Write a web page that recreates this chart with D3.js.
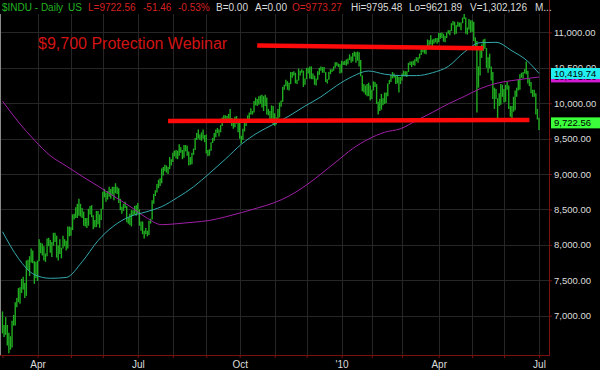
<!DOCTYPE html>
<html>
<head>
<meta charset="utf-8">
<script src="https://cdn.jsdelivr.net/npm/d3@7"></script>
<style>
  html, body { margin: 0; padding: 0; background: #000; }
  svg { display: block; }
</style>
</head>
<body>
<div id="chart"></div>
<script>
(function () {
  'use strict';

  /* ── DATA ── */
  // market holidays skipped when building the trading calendar
  const HOLIDAYS = ['2009-04-10', '2009-05-25', '2009-07-03', '2009-09-07', '2009-11-26', '2009-12-25',
                    '2010-01-01', '2010-01-18', '2010-02-15', '2010-04-02', '2010-05-31'];

  // daily lows, one line per month (Mar 2009 .. Jul 2010)
  const LOWS = [
    6750,6700,6730,6580,6470,6520,6550,6860,6860,7120,7190,7170,7320,7370,7250,7280,7640,7560,7750,7740,7450,7530,
    7490,7770,7880,7850,7780,7760,7840,7980,7890,7830,7990,8040,7820,7780,7870,7810,7950,7980,7920,7950,8120,
    8130,8210,8360,8380,8380,8410,8400,8380,8270,8260,8240,8270,8430,8390,8220,8250,8250,8290,8240,8350,
    8500,8670,8610,8640,8680,8650,8710,8630,8730,8720,8590,8490,8440,8480,8520,8320,8300,8280,8260,8410,8430,8410,
    8440,8270,8200,8150,8090,8150,8120,8140,8300,8360,8580,8690,8740,8800,8830,8870,8980,9040,9020,9000,9070,9120,
    9170,9250,9220,9210,9260,9300,9210,9230,9320,9260,9120,9130,9140,9270,9340,9480,9500,9480,9470,9500,9450,
    9290,9250,9260,9330,9440,9470,9520,9580,9530,9590,9680,9750,9780,9730,9780,9740,9680,9640,9660,9710,9590,
    9500,9430,9480,9600,9680,9720,9770,9840,9840,9870,9970,9960,9980,9990,9940,9890,9960,9840,9830,9750,9760,9700,
    9680,9700,9770,9800,9950,10020,10190,10240,10190,10180,10270,10360,10390,10280,10270,10320,10390,10430,10230,10260,
    10340,10420,10350,10340,10340,10260,10250,10330,10400,10460,10430,10430,10300,10280,10330,10410,10440,10460,10500,10530,10510,10420,
    10430,10540,10540,10530,10550,10610,10570,10590,10660,10570,10600,10520,10380,10170,10150,10120,10100,10100,10040,
    10060,10180,10230,9990,9840,9890,9910,9970,9990,10000,10100,10270,10300,10350,10360,10270,10280,10150,10270,
    10320,10380,10380,10370,10440,10540,10510,10540,10530,10590,10570,10630,10680,10720,10700,10690,10770,10810,10830,10800,10840,10860,10840,
    10860,10910,10920,10870,10860,10920,10980,10960,11020,11100,10970,10980,11080,11080,11030,11130,11190,10980,10970,11040,11000,
    11010,10880,10790,9870,10220,10390,10640,10740,10770,10500,10430,10490,10320,10060,9920,10060,9780,9960,9980,10090,
    10010,10020,10190,9920,9810,9760,9880,9900,10090,10180,10190,10360,10350,10420,10410,10280,10240,10140,10090,10090,9840,9770,
    9622
  ];

  // daily highs, same layout as LOWS
  const HIGHS = [
    7060,6870,6980,6870,6760,6710,6930,7010,7190,7250,7390,7400,7520,7550,7460,7780,7790,7840,7950,7920,7770,7760,
    7780,8080,8030,8020,7980,7880,8090,8100,8070,8040,8170,8170,8130,7990,8080,7960,8130,8080,8060,8260,8260,
    8250,8430,8440,8530,8580,8650,8580,8520,8470,8380,8380,8510,8550,8560,8420,8350,8480,8480,8430,8510,
    8750,8790,8740,8760,8820,8790,8820,8820,8870,8820,8800,8650,8540,8580,8610,8550,8390,8440,8490,8490,8550,8560,
    8590,8500,8330,8330,8200,8240,8200,8340,8370,8630,8720,8770,8860,8920,8940,9080,9100,9130,9120,9100,9240,9210,
    9300,9330,9340,9330,9420,9380,9340,9410,9410,9400,9320,9240,9300,9360,9510,9580,9630,9560,9590,9630,9550,
    9560,9340,9350,9450,9510,9580,9630,9650,9630,9690,9800,9830,9830,9820,9850,9920,9790,9740,9810,9820,9750,
    9720,9540,9640,9760,9740,9830,9870,9930,9890,10030,10080,10060,10100,10110,10120,10100,10120,10080,9920,9890,9970,9960,
    9860,9800,9920,10010,10040,10230,10260,10330,10310,10290,10440,10440,10450,10430,10330,10490,10460,10480,10460,10350,
    10500,10500,10520,10520,10420,10390,10350,10450,10500,10520,10510,10510,10440,10340,10440,10480,10480,10520,10580,10580,10560,10550,
    10600,10590,10600,10620,10630,10690,10660,10710,10730,10720,10730,10720,10610,10390,10270,10250,10270,10290,10250,
    10190,10310,10300,10270,10020,10060,10130,10070,10150,10150,10280,10330,10400,10440,10420,10390,10400,10370,10370,
    10420,10460,10450,10450,10570,10590,10590,10600,10620,10650,10650,10700,10770,10790,10800,10790,10900,10890,10960,10900,10910,10920,10920,
    10990,10990,11000,10980,10950,11000,11030,11030,11130,11160,11150,11100,11150,11140,11140,11210,11260,11210,11070,11190,11170,
    11170,11150,10930,10880,10520,10800,10830,10900,10910,10780,10650,10700,10520,10440,10220,10200,10070,10140,10270,10260,
    10200,10260,10300,10250,9960,9960,10090,10180,10220,10330,10410,10430,10440,10480,10590,10460,10340,10300,10190,10190,10140,9920,
    9795
  ];

  // moving averages every 10 trading days
  const MA_DAYS  = [0, 10, 20, 30, 40, 50, 60, 70, 80, 90, 100, 110, 120, 130, 140, 150, 160, 170,
                    180, 190, 200, 210, 220, 230, 240, 250, 260, 270, 280, 290, 300, 310, 320, 330, 337];
  const MA50     = [8186, 7810, 7580, 7528, 7540, 7760, 8060, 8270, 8400, 8465, 8540, 8670, 8820, 9010, 9210, 9420, 9580, 9700,
                    9820, 9960, 10090, 10250, 10380, 10455, 10410, 10390, 10390, 10430, 10520, 10720, 10855, 10860, 10740, 10590, 10420];
  const MA200    = [10030, 9735, 9480, 9260, 9114, 8968, 8830, 8685, 8545, 8390, 8285, 8300, 8320, 8345, 8395, 8455, 8520, 8590,
                    8690, 8830, 9000, 9180, 9360, 9495, 9590, 9640, 9755, 9870, 9990, 10095, 10205, 10280, 10320, 10350, 10370];

  const PRICE_TICKS = [7000, 7500, 8000, 8500, 9000, 9500, 10000, 10500, 11000];

  // hand-drawn red lines: [start day, end day] and [start value, end value]
  const TREND_DAYS   = [[160, 302], [104, 331]];
  const TREND_VALUES = [[10815, 10776], [9749, 9763]];

  const LAST_CLOSE = 9722.56;
  const LAST_MA50  = 10419.74;
  const LAST_MA200 = 10371.26;

  const HEADER_TEXT = ['$INDU - Daily', 'US', 'L=9722.56', '-51.46', '-0.53%', 'B=0.00', 'A=0.00',
                       'O=9773.27', 'Hi=9795.48', 'Lo=9621.89', 'V=1,302,126', 'M...'];
  const TITLE = '$9,700 Protection Webinar';

  /* ── CONSTANTS ── */
  const W = 600, H = 370;
  const AXIS_X = 549, AXIS_Y = 355, PLOT_TOP = 14;
  const FONT   = "Arial, 'Liberation Sans', sans-serif";
  const GREEN  = '#22b422';
  const BAR    = '#20ac20';
  const RED    = '#d42020';
  const LIGHT  = '#dcdcdc';
  const GRID   = '#262626';
  const AXIS   = '#7a1010';
  const HEADER_X     = [2, 68, 88, 143, 178, 216, 255, 292, 351, 409, 470, 535];
  const HEADER_COLOR = [GREEN, GREEN, RED, RED, RED, LIGHT, LIGHT, RED, LIGHT, LIGHT, LIGHT, LIGHT];

  /* ── TRADING CALENDAR ── */
  const fmtDay = d3.timeFormat('%Y-%m-%d');
  const DATES = d3.timeDay.range(new Date(2009, 2, 2), new Date(2010, 6, 2))
    .filter(d => d.getDay() !== 0 && d.getDay() !== 6 && !HOLIDAYS.includes(fmtDay(d)));
  if (DATES.length !== HIGHS.length) console.warn('calendar mismatch', DATES.length, HIGHS.length);

  const monthStarts = DATES.map((_, i) => i)
    .filter(i => i === 0 || DATES[i].getMonth() !== DATES[i - 1].getMonth());
  function monthLabel(i) {
    const m = DATES[i].getMonth();
    if (m % 3 !== 0) return '';
    return m === 0 ? "'" + d3.timeFormat('%y')(DATES[i]) : d3.timeFormat('%b')(DATES[i]);
  }

  /* ── SCALES ── */
  const x = d3.scaleLinear().domain([0, HIGHS.length - 1]).range([2.5, 539]);
  const y = d3.scaleLinear().domain([7000, 11000]).range([315.7, 32.4]);

  const svg = d3.select('#chart').append('svg').attr('width', W).attr('height', H)
    .style('background', '#000').style('font-family', FONT);

  svg.append('defs').append('clipPath').attr('id', 'plot-clip')
    .append('rect').attr('x', 0).attr('y', PLOT_TOP - 2)
    .attr('width', AXIS_X).attr('height', AXIS_Y - PLOT_TOP + 2);

  /* ── GRIDLINES ── */
  const grid = svg.append('g').attr('shape-rendering', 'crispEdges');
  grid.selectAll('.hgrid').data(PRICE_TICKS).join('line')
    .attr('x1', 0).attr('x2', AXIS_X)
    .attr('y1', d => Math.round(y(d)) + 0.5).attr('y2', d => Math.round(y(d)) + 0.5)
    .attr('stroke', GRID);
  grid.selectAll('.vgrid').data(monthStarts.slice(1)).join('line')
    .attr('x1', i => Math.round(x(i)) + 0.5).attr('x2', i => Math.round(x(i)) + 0.5)
    .attr('y1', PLOT_TOP).attr('y2', AXIS_Y)
    .attr('stroke', GRID);
  grid.append('line').attr('x1', 0.5).attr('x2', 0.5).attr('y1', PLOT_TOP).attr('y2', AXIS_Y)
    .attr('stroke', '#8a8a8a');

  const plot = svg.append('g').attr('clip-path', 'url(#plot-clip)');

  /* ── PRICE BARS ── */
  plot.append('g')
    .selectAll('line').data(d3.range(HIGHS.length)).join('line')
    .attr('x1', i => x(i)).attr('x2', i => x(i))
    .attr('y1', i => y(HIGHS[i])).attr('y2', i => y(LOWS[i]))
    .attr('stroke', BAR).attr('stroke-width', 1.4);

  /* ── MOVING AVERAGES ── */
  const maLine = vals => d3.line()
    .x((_, k) => x(MA_DAYS[k])).y(v => y(v))
    .curve(d3.curveMonotoneX)(vals);
  plot.append('path').attr('d', maLine(MA200))
    .attr('fill', 'none').attr('stroke', '#a020a8').attr('stroke-width', 1);
  plot.append('path').attr('d', maLine(MA50))
    .attr('fill', 'none').attr('stroke', '#35a9ad').attr('stroke-width', 1);

  /* ── RED TREND LINES ── */
  plot.selectAll('.trend').data(TREND_DAYS).join('line')
    .attr('x1', d => x(d[0])).attr('x2', d => x(d[1]))
    .attr('y1', (_, k) => y(TREND_VALUES[k][0])).attr('y2', (_, k) => y(TREND_VALUES[k][1]))
    .attr('stroke', '#ff0a0a').attr('stroke-width', 4.5);

  /* ── AXES ── */
  svg.append('g').attr('transform', `translate(${AXIS_X},0)`)
    .call(d3.axisRight(y).tickValues(PRICE_TICKS).tickSize(3).tickPadding(2).tickFormat(d3.format(',.2f')))
    .call(ax => ax.select('.domain').remove())
    .call(ax => ax.selectAll('line').attr('stroke', AXIS))
    .call(ax => ax.selectAll('text').attr('fill', LIGHT).style('font-size', '9.5px').style('font-family', FONT));

  svg.append('g').attr('transform', `translate(0,${AXIS_Y})`)
    .call(d3.axisBottom(x).tickValues(monthStarts).tickSize(3).tickPadding(3).tickFormat(monthLabel))
    .call(ax => ax.select('.domain').remove())
    .call(ax => ax.selectAll('line').attr('stroke', AXIS))
    .call(ax => ax.selectAll('text').attr('fill', LIGHT).style('font-size', '10px').style('font-family', FONT));

  svg.append('line').attr('x1', AXIS_X + 0.5).attr('x2', AXIS_X + 0.5).attr('y1', 0).attr('y2', AXIS_Y + 1)
    .attr('stroke', AXIS);
  svg.append('line').attr('x1', 0).attr('x2', AXIS_X).attr('y1', AXIS_Y + 0.5).attr('y2', AXIS_Y + 0.5)
    .attr('stroke', AXIS);

  /* ── LAST-VALUE BOXES (stacked like the source, ma200 under ma50) ── */
  function valueBox(value, fill, textFill) {
    const cy = y(value);
    const g = svg.append('g');
    g.append('rect').attr('x', AXIS_X + 2).attr('y', cy - 5.5).attr('width', W - AXIS_X - 2).attr('height', 11)
      .attr('fill', fill);
    g.append('text').attr('x', AXIS_X + 5).attr('y', cy).attr('dy', '0.35em')
      .attr('fill', textFill).style('font-size', '9.5px').text(d3.format(',.2f')(value));
  }
  valueBox(LAST_MA200, '#d21ad2', '#1a001a');
  valueBox(LAST_MA50, '#22f0f0', '#000');
  valueBox(LAST_CLOSE, '#3cff3c', '#000');

  /* ── HEADER + TITLE ── */
  svg.append('g').selectAll('text').data(HEADER_TEXT).join('text')
    .attr('x', (_, k) => HEADER_X[k]).attr('y', 10.5)
    .attr('fill', (_, k) => HEADER_COLOR[k])
    .style('font-size', '10px')
    .text(d => d);

  svg.append('text').attr('x', 38).attr('y', 49)
    .attr('fill', '#d01414').style('font-size', '16px').text(TITLE);
})();
</script>
</body>
</html>
